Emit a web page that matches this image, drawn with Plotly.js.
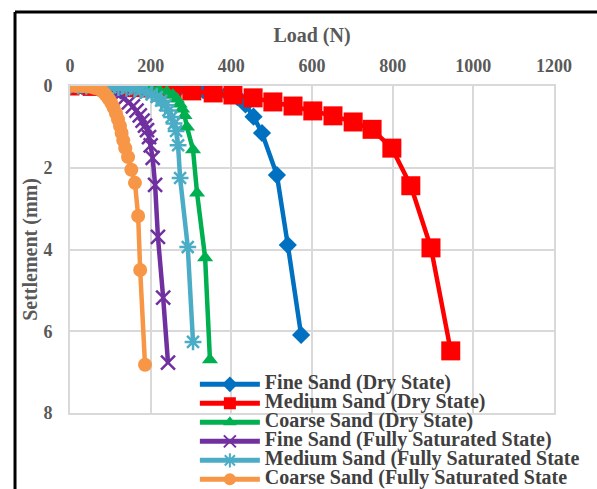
<!DOCTYPE html>
<html>
<head>
<meta charset="utf-8">
<script src="https://cdn.plot.ly/plotly-3.0.1.min.js"></script>
<style>html,body{margin:0;padding:0;background:#fff;}#chart{width:597px;height:489px;}</style>
</head>
<body>
<div id="chart"></div>
<script>
// Series names (as shown in the legend)
const seriesNames = [
  "Fine Sand (Dry State)",
  "Medium Sand (Dry State)",
  "Coarse Sand (Dry State)",
  "Fine Sand (Fully Saturated State)",
  "Medium Sand (Fully Saturated State",
  "Coarse Sand (Fully Saturated State"
];

// Load (N) and settlement (mm) values
const loadFineDry   = [0, 30, 60, 90, 120, 150, 180, 210, 240, 270, 300, 330, 360, 390, 415, 435, 455, 476, 513, 540, 573];
const settleFineDry = [0, 0.005, 0.01, 0.015, 0.02, 0.025, 0.03, 0.04, 0.05, 0.065, 0.08, 0.1, 0.13, 0.18, 0.27, 0.45, 0.75, 1.15, 2.18, 3.89, 6.09];

const loadMediumDry   = [0, 55, 104, 154, 203, 253, 302, 355, 404, 454, 503, 553, 602, 652, 702, 749, 798, 845, 895, 944];
const settleMediumDry = [0, 0.01, 0.02, 0.04, 0.05, 0.07, 0.12, 0.17, 0.22, 0.29, 0.39, 0.49, 0.61, 0.73, 0.88, 1.06, 1.52, 2.44, 3.96, 6.48];

const loadCoarseDry   = [0, 25, 50, 75, 100, 125, 150, 175, 200, 220, 240, 255, 265, 272, 278, 284, 290, 305, 315, 335, 347];
const settleCoarseDry = [0, 0.005, 0.01, 0.015, 0.02, 0.025, 0.03, 0.04, 0.06, 0.09, 0.14, 0.22, 0.32, 0.44, 0.56, 0.72, 1.0, 1.56, 2.62, 4.2, 6.7];

const loadFineSat   = [0, 20, 40, 60, 80, 96, 110, 123, 135, 146, 156, 165, 173, 180, 186, 191, 196, 200, 205, 211, 218, 231, 243];
const settleFineSat = [0, 0, 0.01, 0.02, 0.04, 0.08, 0.14, 0.22, 0.3, 0.4, 0.5, 0.6, 0.72, 0.85, 0.97, 1.08, 1.25, 1.45, 1.76, 2.42, 3.69, 5.18, 6.77];

const loadMediumSat   = [0, 20, 40, 60, 80, 100, 120, 140, 160, 175, 190, 203, 215, 226, 236, 244, 252, 258, 263, 268, 273, 292, 305];
const settleMediumSat = [0, 0, 0.01, 0.01, 0.02, 0.03, 0.04, 0.06, 0.08, 0.11, 0.15, 0.2, 0.27, 0.36, 0.47, 0.6, 0.76, 0.92, 1.1, 1.45, 2.25, 3.94, 6.26];

const loadCoarseSat   = [0, 15, 30, 45, 58, 70, 80, 88, 95, 102, 108, 114, 119, 124, 128, 132, 137, 144, 152, 161, 169, 174, 186];
const settleCoarseSat = [0, 0, 0.005, 0.015, 0.035, 0.07, 0.13, 0.21, 0.3, 0.41, 0.53, 0.67, 0.82, 0.98, 1.15, 1.33, 1.52, 1.74, 2.05, 2.37, 3.18, 4.5, 6.82];

const xTicks = [0, 200, 400, 600, 800, 1000, 1200];
const yTicks = [0, 2, 4, 6, 8];

const seriesLoads = [loadFineDry, loadMediumDry, loadCoarseDry, loadFineSat, loadMediumSat, loadCoarseSat];
const seriesSettles = [settleFineDry, settleMediumDry, settleCoarseDry, settleFineSat, settleMediumSat, settleCoarseSat];

const styles = [
  {color: "#0070C0", symbol: "diamond", size: 14, open: false},
  {color: "#FF0000", symbol: "square", size: 19, open: false},
  {color: "#00B050", symbol: "triangle-up", size: 14, open: false},
  {color: "#7030A0", symbol: "x-thin-open", size: 14, open: true},
  {color: "#4BACC6", symbol: "asterisk-open", size: 14, open: true},
  {color: "#F79646", symbol: "circle", size: 14, open: false}
];

const traces = seriesNames.map((name, i) => {
  const s = styles[i];
  return {
    type: "scatter",
    mode: "lines+markers",
    x: seriesLoads[i],
    y: seriesSettles[i],
    name: '<span style="font-size:20px">' + name + '</span>',
    line: {color: s.color, width: 4.5},
    marker: {
      color: s.color,
      symbol: s.symbol,
      size: s.size,
      line: {color: s.color, width: s.open ? 2.5 : 0}
    }
  };
});

const serif = "Liberation Serif";
const axisFont = {family: serif, size: 18, color: "#595959", weight: "bold"};
const titleFont = {family: serif, size: 20, color: "#595959", weight: "bold"};

const layout = {
  width: 597,
  height: 489,
  paper_bgcolor: "#ffffff",
  plot_bgcolor: "#ffffff",
  margin: {l: 70, r: 43, t: 86, b: 76, autoexpand: false},
  showlegend: true,
  xaxis: {
    side: "top",
    range: [0, 1200],
    tickvals: xTicks,
    ticktext: xTicks.map(String),
    showgrid: true,
    gridcolor: "#d9d9d9",
    gridwidth: 2,
    zeroline: false,
    showline: true,
    linecolor: "#d9d9d9",
    linewidth: 2,
    mirror: true,
    ticks: "",
    tickfont: axisFont,
    ticklabelstandoff: 5,
    title: {text: "<b>Load (N)</b>", font: titleFont, standoff: 8}
  },
  yaxis: {
    range: [8, 0],
    tickvals: yTicks,
    ticktext: yTicks.map(String),
    showgrid: true,
    gridcolor: "#d9d9d9",
    gridwidth: 2,
    zeroline: false,
    showline: true,
    linecolor: "#d9d9d9",
    linewidth: 2,
    mirror: true,
    ticks: "",
    tickfont: axisFont,
    ticklabelstandoff: 12,
    title: {text: "<b>Settlement (mm)</b>", font: titleFont, standoff: 0}
  },
  legend: {
    x: 0.258,
    y: 0.132,
    xanchor: "left",
    yanchor: "top",
    bgcolor: "rgba(255,255,255,0)",
    borderwidth: 0,
    itemwidth: 60,
    itemsizing: "constant",
    tracegroupgap: 0,
    font: {family: serif, size: 12, color: "#404040", weight: "bold"}
  },
  shapes: [
    {type: "line", xref: "paper", yref: "paper", x0: -0.1136, x1: -0.1136, y0: 1.226, y1: -0.35, line: {color: "#000000", width: 3}},
    {type: "line", xref: "paper", yref: "paper", x0: -0.1136, x1: 1.2, y0: 1.226, y1: 1.226, line: {color: "#000000", width: 3}}
  ]
};

Plotly.newPlot("chart", traces, layout, {displayModeBar: false, staticPlot: true});
</script>
</body>
</html>
